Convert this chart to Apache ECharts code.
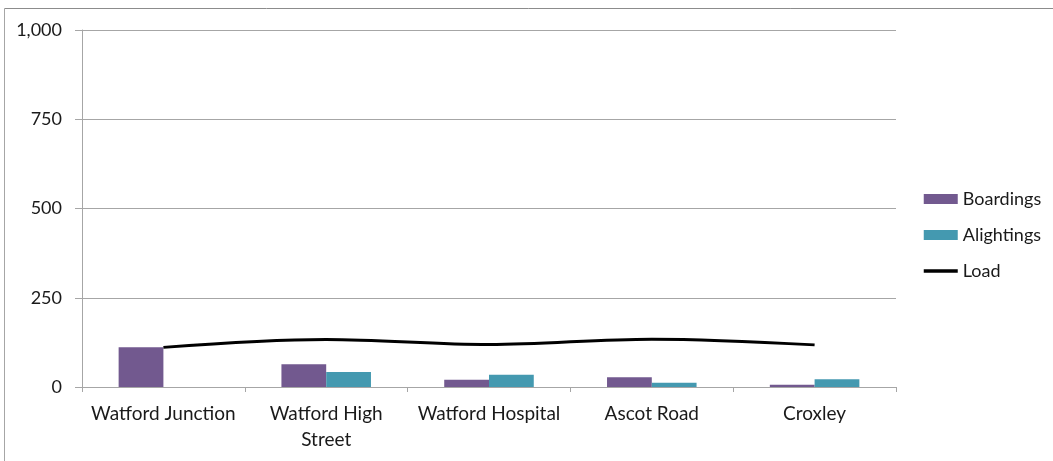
<!DOCTYPE html>
<html>
<head>
<meta charset="utf-8">
<script src="https://cdn.jsdelivr.net/npm/echarts@6/dist/echarts.min.js"></script>
<style>
  html, body { margin: 0; padding: 0; background: #fff; }
  #chart { width: 1053px; height: 461px; }
</style>
</head>
<body>
<div id="chart"></div>
<script>
// Stops along the route
const stops = ['Watford Junction', 'Watford High\nStreet', 'Watford Hospital', 'Ascot Road', 'Croxley'];
// Passenger counts per stop
const boardings = [111, 64, 20, 27, 6];
const alightings = [0, 42, 34, 12, 22];
const load = [111, 133, 119, 134, 118];
// Value axis range
const yMin = 0;
const yMax = 1000;
const yStep = 250;

const font = "Lato, 'Open Sans', sans-serif";
const textColor = '#1a1a1a';
const chart = echarts.init(document.getElementById('chart'), null, { renderer: 'canvas' });

chart.setOption({
  animation: false,
  backgroundColor: '#ffffff',
  textStyle: { fontFamily: font },
  graphic: [
    { type: 'line', shape: { x1: 4.5, y1: 8.5, x2: 1053, y2: 8.5 }, style: { stroke: '#8c8c8c', lineWidth: 1 } },
    { type: 'line', shape: { x1: 4.5, y1: 8.5, x2: 4.5, y2: 461 }, style: { stroke: '#a6a6a6', lineWidth: 1 } }
  ],
  grid: { left: 82, right: 157, top: 30, bottom: 74, containLabel: false },
  legend: {
    orient: 'vertical',
    left: 917,
    top: 185,
    itemWidth: 34,
    itemHeight: 10,
    itemGap: 18,
    textStyle: { fontFamily: font, fontSize: 18, color: textColor },
    data: [
      { name: 'Boardings', icon: 'rect' },
      { name: 'Alightings', icon: 'rect' },
      { name: 'Load', itemStyle: { opacity: 0 }, lineStyle: { width: 3.5, color: '#000' } }
    ]
  },
  xAxis: {
    type: 'category',
    data: stops,
    axisLine: { lineStyle: { color: '#a6a6a6', width: 1 } },
    axisTick: { show: true, length: 5, lineStyle: { color: '#a6a6a6' } },
    axisLabel: { fontFamily: font, fontSize: 19, color: textColor, margin: 14, lineHeight: 26, interval: 0 }
  },
  yAxis: {
    type: 'value',
    min: yMin,
    max: yMax,
    interval: yStep,
    axisLine: { show: true, lineStyle: { color: '#a6a6a6' } },
    axisTick: { show: true, length: 7, lineStyle: { color: '#a6a6a6' } },
    splitLine: { lineStyle: { color: '#a6a6a6', width: 1 } },
    axisLabel: {
      fontFamily: font, fontSize: 18, color: textColor, margin: 20,
      formatter: v => v.toLocaleString('en-US')
    }
  },
  series: [
    {
      name: 'Boardings', type: 'bar', data: boardings,
      barGap: '0%', barCategoryGap: '45%',
      itemStyle: { color: '#72598f' }
    },
    {
      name: 'Alightings', type: 'bar', data: alightings,
      barGap: '0%', barCategoryGap: '45%',
      itemStyle: { color: '#4499b0' }
    },
    {
      name: 'Load', type: 'line', data: load,
      smooth: 0.35, symbol: 'none',
      lineStyle: { color: '#000', width: 3 },
      itemStyle: { color: '#000' }
    }
  ]
});
</script>
</body>
</html>
